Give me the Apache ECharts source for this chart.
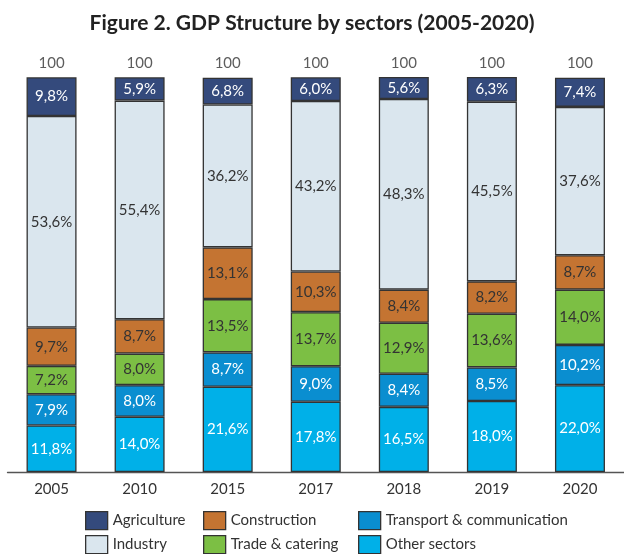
<!DOCTYPE html>
<html><head><meta charset="utf-8">
<script src="https://cdn.jsdelivr.net/npm/echarts@6/dist/echarts.min.js"></script>
<style>html,body{margin:0;padding:0;background:#fff}#c{width:624px;height:554px}</style>
</head><body><div id="c"></div>
<script>
const years = ['2005','2010','2015','2017','2018','2019','2020'];
const totals = [100,100,100,100,100,100,100];
const other = [11.8,14.0,21.6,17.8,16.5,18.0,22.0];
const transport = [7.9,8.0,8.7,9.0,8.4,8.5,10.2];
const trade = [7.2,8.0,13.5,13.7,12.9,13.6,14.0];
const construction = [9.7,8.7,13.1,10.3,8.4,8.2,8.7];
const industry = [53.6,55.4,36.2,43.2,48.3,45.5,37.6];
const agriculture = [9.8,5.9,6.8,6.0,5.6,6.3,7.4];

const FONT = 'Lato';
const fmt = p => p.value.toFixed(1).replace('.', ',') + '%';
function ser(name, data, color, labelColor) {
  return {
    name, type: 'bar', stack: 's', data, barWidth: 50,
    itemStyle: { color, borderColor: '#333', borderWidth: 1.3 },
    label: { show: true, position: 'inside', formatter: fmt, color: labelColor, fontSize: 15, fontFamily: FONT },
    emphasis: { disabled: true }
  };
}
const legendPos = [
  ['Agriculture', 85, 511], ['Industry', 85, 535],
  ['Construction', 203, 511], ['Trade & catering', 203, 535],
  ['Transport & communication', 358, 511], ['Other sectors', 358, 535]
];
const chart = echarts.init(document.getElementById('c'));
chart.setOption({
  animation: false,
  title: { text: 'Figure 2. GDP Structure by sectors (2005-2020)', left: 'center', top: 8,
    textStyle: { fontFamily: FONT, fontWeight: 'bold', fontSize: 21, color: '#222' } },
  grid: { left: 7.5, right: -8, top: 77.3, bottom: 82 },
  xAxis: { type: 'category', data: years,
    axisLine: { lineStyle: { color: '#555', width: 1.3 } }, axisTick: { show: false },
    axisLabel: { color: '#333', fontSize: 15, fontFamily: FONT, margin: 10 } },
  yAxis: { type: 'value', min: 0, max: 100, show: false, splitLine: { show: false } },
  legend: legendPos.map(([n, x, y]) => ({ data: [n], left: x, top: y,
      itemWidth: 22, itemHeight: 18, itemGap: 6, icon: 'rect', padding: 0,
      textStyle: { fontFamily: FONT, fontSize: 15, color: '#333' }, selectedMode: false,
      itemStyle: { borderColor: '#333', borderWidth: 1.3 } })),
  series: [
    ser('Other sectors', other, '#00b0e8', '#fff'),
    ser('Transport & communication', transport, '#0a8ed0', '#fff'),
    ser('Trade & catering', trade, '#7cbf44', '#333'),
    ser('Construction', construction, '#c47432', '#333'),
    ser('Industry', industry, '#dae6ee', '#333'),
    ser('Agriculture', agriculture, '#344a7c', '#fff'),
    { name: 'Total', type: 'scatter', data: totals, symbolSize: 0, clip: false,
      label: { show: true, position: 'top', distance: 7, formatter: p => String(p.value),
        color: '#333', fontSize: 15, fontFamily: FONT } }
  ]
});
</script></body></html>
